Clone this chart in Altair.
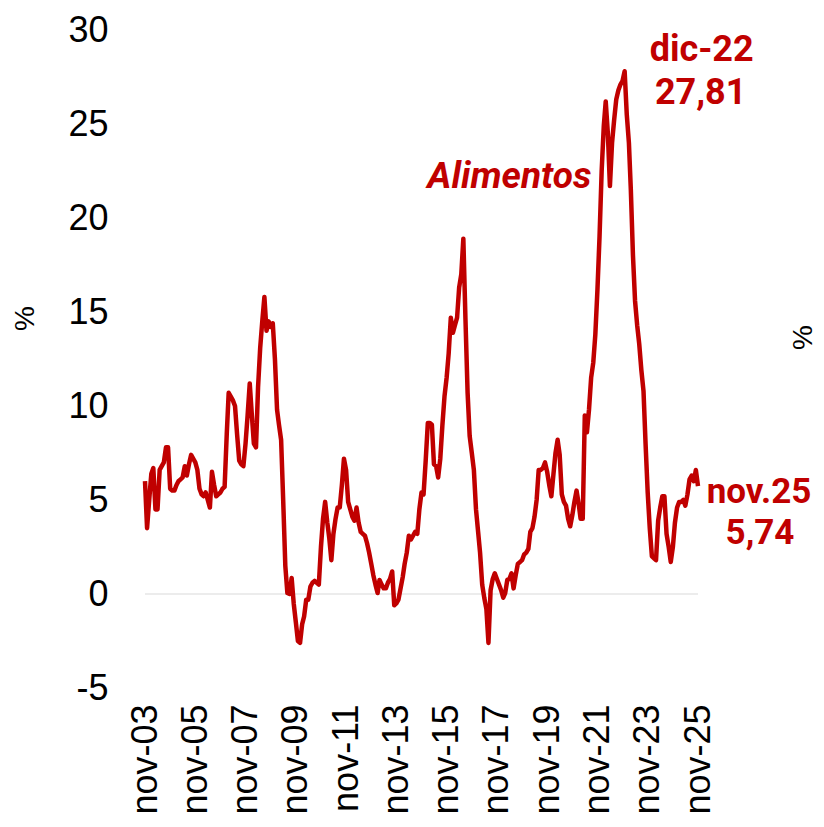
import json
import pandas as pd
import altair as alt

# ---- data -------------------------------------------------------------
start = "2003-11-01"
n_months = 265
dates = pd.date_range(start, periods=n_months, freq="MS").strftime("%Y-%m-%d").tolist()

values = [
    6.0, 3.5, 5.0, 6.4, 6.7, 4.5, 4.5, 6.6, 6.8, 7.0, 7.8, 7.8,
    5.6, 5.5, 5.5, 5.8, 6.0, 6.1, 6.2, 6.8, 6.3, 6.9, 7.4, 7.2,
    7.0, 6.6, 5.6, 5.3, 5.2, 5.4, 5.0, 4.6, 6.5, 5.8, 5.2, 5.3,
    5.4, 5.6, 5.7, 8.5, 10.7, 10.5, 10.3, 10.0, 8.5, 7.1, 6.9, 6.8,
    8.0, 9.5, 11.2, 9.5, 8.0, 7.8, 11.0, 13.1, 14.5, 15.8, 14.0, 14.5,
    14.2, 14.4, 12.5, 9.8, 9.0, 8.2, 5.0, 1.5, 0.05, 0.0, 0.85, -0.5,
    -1.5, -2.5, -2.6, -1.6, -1.2, -0.3, -0.3, 0.4, 0.6, 0.7, 0.6, 0.5,
    2.5, 4.0, 4.9, 3.8, 3.0, 1.8, 3.2, 4.0, 4.6, 4.6, 5.8, 7.2,
    6.6, 4.9, 4.5, 4.1, 3.9, 4.6, 3.8, 3.3, 3.2, 3.1, 2.7, 2.2,
    1.6, 1.0, 0.5, 0.05, 0.75, 0.5, 0.3, 0.3, 0.6, 0.8, 1.2, -0.6,
    -0.5, -0.3, 0.3, 0.9, 1.6, 2.2, 3.1, 2.9, 3.1, 3.3, 3.2, 4.5,
    5.4, 5.3, 7.1, 9.1, 9.1, 9.0, 6.9, 6.8, 6.2, 7.2, 9.0, 10.5,
    11.5, 12.8, 14.7, 13.9, 14.3, 14.7, 16.3, 17.0, 18.9, 14.6, 10.7, 8.4,
    7.5, 6.6, 4.5, 3.3, 2.2, 0.5, -0.2, -0.8, -2.6, 0.2, 0.8, 1.1,
    0.8, 0.5, 0.2, -0.2, 0.05, 0.75, 0.8, 1.1, 0.3, 1.0, 1.6, 1.7,
    1.8, 2.1, 2.2, 2.4, 3.3, 3.5, 4.1, 5.0, 6.6, 6.6, 6.7, 7.0,
    6.5, 5.8, 5.2, 6.4, 7.5, 8.2, 7.4, 5.3, 4.9, 4.7, 4.0, 3.6,
    4.2, 4.9, 5.5, 4.8, 4.0, 4.0, 9.5, 8.6, 9.8, 11.5, 12.3, 13.8,
    16.2, 19.0, 22.5, 24.9, 26.2, 24.5, 21.7, 24.0, 25.2, 26.3, 26.8, 27.1,
    27.3, 27.81, 25.5, 24.0, 21.5, 18.0, 15.6, 14.3, 13.3, 11.9, 10.8, 8.0,
    5.4, 3.5, 2.0, 1.9, 1.8, 3.9, 4.6, 5.2, 5.2, 3.2, 2.5, 1.7,
    2.5, 3.8, 4.6, 4.9, 4.9, 5.0, 4.7, 5.3, 6.1, 6.3, 6.0, 6.6,
    5.74,
]
assert len(values) == n_months

tick_dates = ["2003-11-01", "2005-11-01", "2007-11-01", "2009-11-01", "2011-11-01",
              "2013-11-01", "2015-11-01", "2017-11-01", "2019-11-01", "2021-11-01",
              "2023-11-01", "2025-11-01"]
tick_labels = ["nov-03", "nov-05", "nov-07", "nov-09", "nov-11", "nov-13",
               "nov-15", "nov-17", "nov-19", "nov-21", "nov-23", "nov-25"]
y_ticks = [-5, 0, 5, 10, 15, 20, 25, 30]

series_name = "Alimentos"
series_label_date = "2018-05-01"
series_label_value = 22.2

peak_date = "2022-12-01"
peak_value = 27.81
peak_lines = ["dic-22", "27,81"]

last_date = "2025-11-01"
last_value = 5.74
last_lines = ["nov.25", "5,74"]

# ---- helpers ----------------------------------------------------------
def ms(d):
    return int(pd.Timestamp(d, tz="UTC").value // 10**6)

tick_ms = [ms(d) for d in tick_dates]
x_domain = [ms(dates[0]), ms(dates[-1])]
label_map = {d[:7]: lab for d, lab in zip(tick_dates, tick_labels)}
label_expr = f"{json.dumps(label_map)}[utcFormat(datum.value, '%Y-%m')]"

RED = "#C00000"
AXIS_FONT = "Liberation Sans"
ANN_FONT = "Roboto"

df = pd.DataFrame({"date": dates, "value": values})

xscale = alt.Scale(type="utc", domain=x_domain)
yscale = alt.Scale(domain=[-5, 30], nice=False, zero=False)

x_enc = alt.X(
    "date:T",
    scale=xscale,
    axis=alt.Axis(
        values=tick_ms,
        labelExpr=label_expr,
        labelAngle=270,
        labelFontSize=36,
        labelFont=AXIS_FONT,
        labelColor="black",
        labelPadding=16,
        ticks=False,
        domain=False,
        grid=False,
        title=None,
        labelOverlap=False,
    ),
)

# zero line + right-hand axis title
zero = (
    alt.Chart(pd.DataFrame({"value": [0]}))
    .mark_rule(color="#d9d9d9", strokeWidth=1)
    .encode(
        y=alt.Y(
            "value:Q",
            scale=yscale,
            axis=alt.Axis(
                orient="right",
                labels=False,
                ticks=False,
                domain=False,
                grid=False,
                title="%",
                titleFont=AXIS_FONT,
                titleFontSize=28,
                titleFontWeight="normal",
                titleColor="black",
                titleAngle=270,
                titleX=105,
                titleY=307,
                titleAlign="center",
                titleBaseline="middle",
            ),
        )
    )
)

line = (
    alt.Chart(df)
    .mark_line(color=RED, strokeWidth=4.5, strokeJoin="round")
    .encode(
        x=x_enc,
        y=alt.Y(
            "value:Q",
            scale=yscale,
            axis=alt.Axis(
                values=y_ticks,
                labelExpr="'' + datum.value",
                labelFontSize=36,
                labelFont=AXIS_FONT,
                labelColor="black",
                labelPadding=37,
                ticks=False,
                domain=False,
                grid=False,
                title="%",
                titleFont=AXIS_FONT,
                titleFontSize=28,
                titleFontWeight="normal",
                titleColor="black",
                titleAngle=270,
                titleX=-120,
                titleY=288,
                titleAlign="center",
                titleBaseline="middle",
            ),
        ),
    )
)


def text_layer(d, v, txt, dx, dy, size=36, italic=False):
    return (
        alt.Chart(pd.DataFrame({"date": [d], "value": [v], "t": [txt]}))
        .mark_text(
            font=ANN_FONT,
            fontWeight="bold",
            fontStyle="italic" if italic else "normal",
            fontSize=size,
            color=RED,
            dx=dx,
            dy=dy,
            align="center",
            baseline="middle",
        )
        .encode(
            x=alt.X("date:T", scale=xscale),
            y=alt.Y("value:Q", scale=yscale, axis=None),
            text="t:N",
        )
    )


texts = [
    text_layer(series_label_date, series_label_value, series_name, 0, 0, size=37, italic=True),
    text_layer(peak_date, peak_value, peak_lines[0], 77, -21),
    text_layer(peak_date, peak_value, peak_lines[1], 76, 22),
    text_layer(last_date, last_value, last_lines[0], 61, 6, size=35),
    text_layer(last_date, last_value, last_lines[1], 62, 47, size=35),
]

chart = (
    alt.layer(zero, line, *texts)
    .resolve_scale(y="independent")
    .properties(
        width=553,
        height=658,
        autosize=alt.AutoSizeParams(type="none"),
        padding={"left": 137, "top": 22, "right": 118, "bottom": 128},
        background="white",
    )
    .configure_view(stroke=None)
)

chart.save("out.html", embed_options={"renderer": "svg", "actions": False})
